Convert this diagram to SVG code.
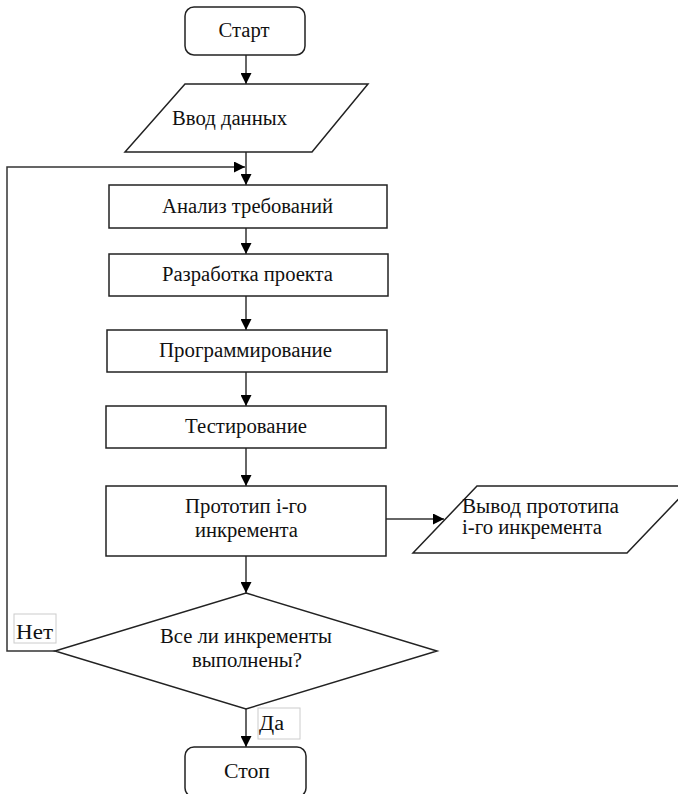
<svg xmlns="http://www.w3.org/2000/svg" width="678" height="794" viewBox="0 0 678 794">
<style>
.s{fill:#fff;stroke:#222;stroke-width:1.5}
.t{font-family:"Liberation Serif","Times New Roman","DejaVu Serif",serif;font-size:20px;fill:#111}
.c{text-anchor:middle}
.lb{fill:#fff;stroke:#ccc;stroke-width:1}
.ln{fill:none;stroke:#333;stroke-width:1.5}
</style>
<defs>
<marker id="a" markerUnits="userSpaceOnUse" markerWidth="12" markerHeight="11" refX="11" refY="5.5" orient="auto">
<path d="M0,0 L11,5.5 L0,11 z" fill="#000"/>
</marker>
</defs>
<rect width="678" height="794" fill="#fff"/>
<g id="connectors">
<line class="ln" x1="246" y1="55" x2="246" y2="84" marker-end="url(#a)"/>
<line class="ln" x1="246" y1="152" x2="246" y2="185" marker-end="url(#a)"/>
<path class="ln" d="M55,651 H7 V167 H245" marker-end="url(#a)"/>
<line class="ln" x1="246" y1="228" x2="246" y2="254" marker-end="url(#a)"/>
<line class="ln" x1="246" y1="296" x2="246" y2="330" marker-end="url(#a)"/>
<line class="ln" x1="246" y1="372" x2="246" y2="406" marker-end="url(#a)"/>
<line class="ln" x1="246" y1="448" x2="246" y2="486" marker-end="url(#a)"/>
<line class="ln" x1="386" y1="519" x2="444" y2="519" marker-end="url(#a)"/>
<line class="ln" x1="246" y1="556" x2="246" y2="593" marker-end="url(#a)"/>
<line class="ln" x1="246" y1="709" x2="246" y2="747" marker-end="url(#a)"/>
<g id="label-net">
<rect class="lb" x="14" y="614" width="42" height="29"/>
<text class="t" x="16" y="639" textLength="37" lengthAdjust="spacingAndGlyphs">Нет</text>
</g>
<g id="label-da">
<rect class="lb" x="258" y="708" width="42" height="31"/>
<text class="t" x="259" y="730" textLength="25" lengthAdjust="spacingAndGlyphs">Да</text>
</g>
</g>
<g id="start">
<rect class="s" x="185" y="7" width="120" height="48" rx="9"/>
<text class="t c" x="244" y="37" textLength="51" lengthAdjust="spacingAndGlyphs">Старт</text>
</g>
<g id="input">
<polygon class="s" points="185,84 368,84 312,152 125,152"/>
<text class="t c" x="229.5" y="125" textLength="115" lengthAdjust="spacingAndGlyphs">Ввод данных</text>
</g>
<g id="analysis">
<rect class="s" x="109" y="185" width="278" height="43"/>
<text class="t c" x="247.5" y="213" textLength="171" lengthAdjust="spacingAndGlyphs">Анализ требований</text>
</g>
<g id="design">
<rect class="s" x="109" y="254" width="279" height="42"/>
<text class="t c" x="247.5" y="281" textLength="171" lengthAdjust="spacingAndGlyphs">Разработка проекта</text>
</g>
<g id="programming">
<rect class="s" x="107" y="330" width="280" height="42"/>
<text class="t c" x="245.5" y="357" textLength="173" lengthAdjust="spacingAndGlyphs">Программирование</text>
</g>
<g id="testing">
<rect class="s" x="106" y="406" width="280" height="42"/>
<text class="t c" x="246" y="433" textLength="122" lengthAdjust="spacingAndGlyphs">Тестирование</text>
</g>
<g id="prototype">
<rect class="s" x="106" y="486" width="280" height="70"/>
<text class="t c" x="246" y="513" textLength="122" lengthAdjust="spacingAndGlyphs">Прототип і-го</text>
<text class="t c" x="246.5" y="537" textLength="103" lengthAdjust="spacingAndGlyphs">инкремента</text>
</g>
<g id="output">
<polygon class="s" points="477,486 691,486 627,553 413,553"/>
<text class="t" x="462" y="513" textLength="157" lengthAdjust="spacingAndGlyphs">Вывод прототипа</text>
<text class="t" x="462" y="534" textLength="140" lengthAdjust="spacingAndGlyphs">і-го инкремента</text>
</g>
<g id="decision">
<polygon class="s" points="246,593 437,651 246,709 55,651"/>
<text class="t c" x="246" y="643" textLength="172" lengthAdjust="spacingAndGlyphs">Все ли инкременты</text>
<text class="t c" x="247" y="667" textLength="110" lengthAdjust="spacingAndGlyphs">выполнены?</text>
</g>
<g id="stop">
<rect class="s" x="185" y="747" width="121" height="50" rx="9"/>
<text class="t c" x="247" y="778" textLength="46" lengthAdjust="spacingAndGlyphs">Стоп</text>
</g>
</svg>
